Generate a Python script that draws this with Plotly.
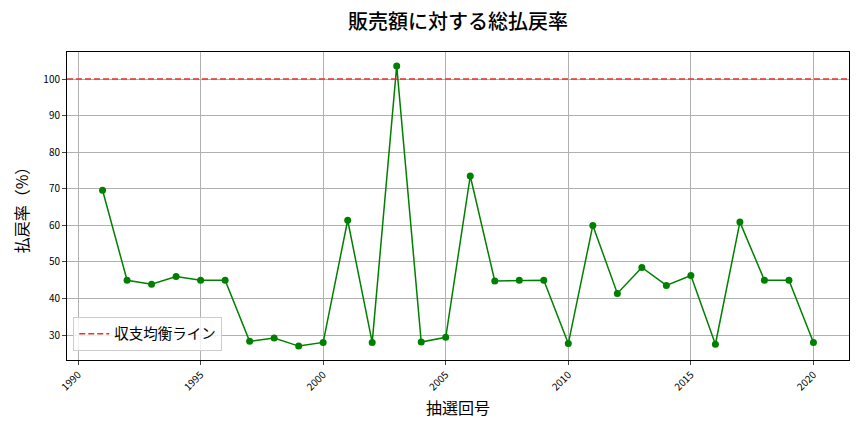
import plotly.graph_objects as go

years = list(range(1991, 2021))
payout = [69.6, 45.0, 43.9, 46.0, 45.0, 45.0, 28.3, 29.2, 27.0, 28.0,
          61.4, 28.0, 103.6, 28.1, 29.4, 73.5, 44.8, 45.0, 45.0, 27.7,
          60.0, 41.4, 48.5, 43.6, 46.3, 27.5, 60.9, 45.0, 45.0, 28.0]
breakeven = 100
x_ticks = [1990, 1995, 2000, 2005, 2010, 2015, 2020]
y_ticks = [30, 40, 50, 60, 70, 80, 90, 100]

font = "Noto Sans CJK JP"
fig = go.Figure()
fig.add_trace(go.Scatter(x=years, y=payout, mode="lines+markers",
                         line=dict(color="green", width=1.5),
                         marker=dict(color="green", size=7),
                         showlegend=False))
fig.add_trace(go.Scatter(x=[1989.55, 2021.45], y=[breakeven, breakeven], mode="lines",
                         line=dict(color="#e8312a", width=1.5, dash="6px,3px"),
                         name="収支均衡ライン"))

fig.update_layout(
    width=864, height=432,
    margin=dict(l=67, r=15, t=52, b=72, autoexpand=False),
    plot_bgcolor="white", paper_bgcolor="white",
    font=dict(family=font, color="black"),
    title=dict(text="販売額に対する総払戻率", x=0.5, xref="paper", xanchor="center",
               y=0.95, yanchor="middle", font=dict(size=20, weight=500)),
    legend=dict(x=0.008, y=0.03, xanchor="left", yanchor="bottom",
                bgcolor="rgba(255,255,255,0.8)", bordercolor="#cccccc", borderwidth=1,
                font=dict(size=14.5)),
    xaxis=dict(range=[1989.55, 2021.45], tickvals=x_ticks, tickangle=-45,
               tickfont=dict(size=10), showgrid=True, gridcolor="#b0b0b0", gridwidth=0.8,
               showline=True, linecolor="black", mirror=True, ticks="outside",
               ticklen=4, zeroline=False, automargin=False,
               title=dict(text="抽選回号", font=dict(size=16), standoff=10)),
    yaxis=dict(range=[23.2, 107.4], tickvals=y_ticks,
               tickfont=dict(size=10), showgrid=True, gridcolor="#b0b0b0", gridwidth=0.8,
               showline=True, linecolor="black", mirror=True, ticks="outside",
               ticklen=4, zeroline=False, automargin=False,
               title=dict(text="払戻率（%）", font=dict(size=16), standoff=10)),
)
fig.write_html("out.html", config={"displayModeBar": False},
               post_script="document.body.style.margin='0';")
